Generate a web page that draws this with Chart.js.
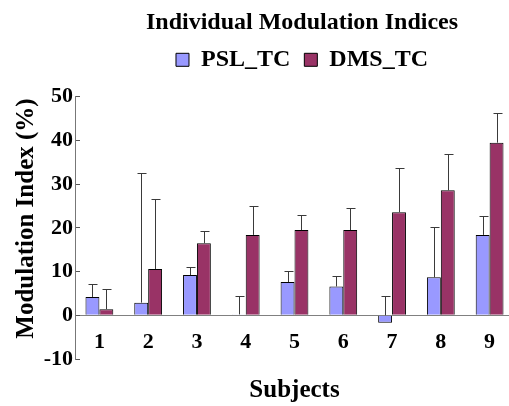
<!DOCTYPE html>
<html>
<head>
<meta charset="utf-8">
<script src="https://cdn.jsdelivr.net/npm/chart.js@4.4.1/dist/chart.umd.min.js"></script>
<style>
  html, body { margin: 0; padding: 0; background: #fff; overflow: hidden; }
  #wrap { width: 604px; height: 406px; }
</style>
</head>
<body>
<div id="wrap"><canvas id="chart" width="604" height="406"></canvas></div>
<script>
// ============================
// data
// ============================

const subjects = ["1", "2", "3", "4", "5", "6", "7", "8", "9"];

const pslValues = [4.2, 2.9, 9.2, 0.2, 7.6, 6.6, -1.7, 8.7, 18.4];
const pslErrors = [2.9, 29.7, 1.9, 4.3, 2.5, 2.3, 6.1, 11.4, 4.3];

const dmsValues = [1.4, 10.6, 16.5, 18.4, 19.5, 19.5, 23.6, 28.6, 39.5];
const dmsErrors = [4.7, 16.1, 2.7, 6.6, 3.4, 5.0, 10.1, 8.4, 6.7];

const yTicks = [-10, 0, 10, 20, 30, 40, 50];

const serif = "'Liberation Serif', 'Times New Roman', serif";


// ============================
// error bars (upper only)
// ============================

const errorBarPlugin = {
  id: "errorBars",
  afterDatasetsDraw(chart) {
    const ctx = chart.ctx;
    const yScale = chart.scales.y;
    ctx.save();
    ctx.strokeStyle = "#3a3a3a";
    ctx.lineWidth = 1;
    chart.data.datasets.forEach((ds, di) => {
      const meta = chart.getDatasetMeta(di);
      meta.data.forEach((bar, i) => {
        const v = ds.data[i];
        const top = Math.round(yScale.getPixelForValue(v + ds.errors[i])) + 0.5;
        const from = yScale.getPixelForValue(Math.max(v, 0));
        const x = Math.round(bar.x) + 0.5;
        ctx.beginPath();
        ctx.moveTo(x, from);
        ctx.lineTo(x, top);
        ctx.moveTo(x - 4, top);
        ctx.lineTo(x + 5, top);
        ctx.stroke();
      });
    });
    ctx.restore();
  }
};


// ============================
// chart
// ============================

new Chart(document.getElementById("chart"), {
  type: "bar",
  data: {
    labels: subjects,
    datasets: [
      {
        label: "PSL_TC",
        data: pslValues,
        errors: pslErrors,
        backgroundColor: "#9999ff",
        borderColor: "#000",
        borderWidth: 1
      },
      {
        label: "DMS_TC",
        data: dmsValues,
        errors: dmsErrors,
        backgroundColor: "#993366",
        borderColor: "#000",
        borderWidth: 1
      }
    ]
  },
  options: {
    responsive: false,
    animation: false,
    layout: { padding: 0 },
    datasets: {
      bar: { categoryPercentage: 0.57, barPercentage: 1.0 }
    },
    plugins: {
      title: {
        display: true,
        text: "Individual Modulation Indices",
        color: "#000",
        font: { family: serif, size: 24, weight: "bold" },
        padding: { top: 8, bottom: -3 }
      },
      legend: {
        display: true,
        labels: {
          color: "#000",
          font: { family: serif, size: 24, weight: "bold" },
          boxWidth: 13,
          boxHeight: 13,
          padding: 14
        }
      },
      tooltip: { enabled: false }
    },
    scales: {
      x: {
        grid: { display: false, drawTicks: false },
        border: { display: false },
        ticks: {
          color: "#000",
          font: { family: serif, size: 22, weight: "bold" },
          mirror: true,
          padding: 3,
          maxRotation: 0
        },
        title: {
          display: true,
          text: "Subjects",
          color: "#000",
          font: { family: serif, size: 25, weight: "bold" },
          padding: { top: 0, bottom: 0 }
        },
        afterFit(scale) { scale.height = 47; }
      },
      // blank spacer above the plot
      xTop: {
        position: "top",
        grid: { display: false, drawTicks: false },
        border: { display: false },
        ticks: { display: false },
        afterFit(scale) { scale.height = 15; }
      },
      y: {
        min: -10,
        max: 50,
        afterBuildTicks(scale) {
          scale.ticks = yTicks.map(v => ({ value: v }));
        },
        grid: {
          color: c => (c.tick && c.tick.value === 0 ? "#808080" : "rgba(0,0,0,0)"),
          tickColor: "#555",
          tickLength: -5
        },
        border: { display: true, color: "#777", width: 1 },
        ticks: {
          color: "#000",
          font: { family: serif, size: 22, weight: "bold" },
          padding: 7
        },
        title: {
          display: true,
          text: "   Modulation Index (%)",
          color: "#000",
          font: { family: serif, size: 25, weight: "bold" },
          padding: { top: 12, bottom: 0 }
        },
        afterFit(scale) { scale.width = 75; }
      },
      // blank spacer to the right of the plot
      yRight: {
        position: "right",
        grid: { display: false, drawTicks: false },
        border: { display: false },
        ticks: { display: false },
        afterFit(scale) { scale.width = 90; }
      }
    }
  },
  plugins: [errorBarPlugin]
});
</script>
</body>
</html>
